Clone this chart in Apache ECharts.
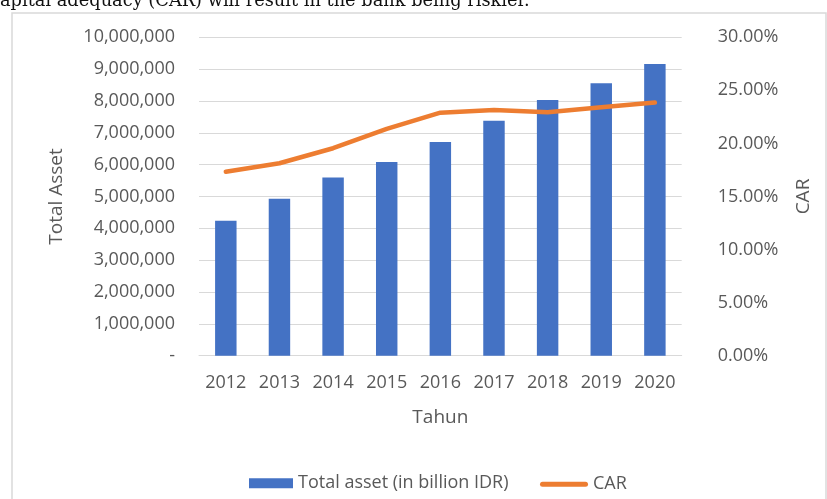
<!DOCTYPE html>
<html>
<head>
<meta charset="utf-8">
<script src="https://cdn.jsdelivr.net/npm/echarts@6/dist/echarts.min.js"></script>
<style>
html,body{margin:0;padding:0;background:#fff;}
#chart{width:827px;height:499px;}
</style>
</head>
<body>
<div id="chart"></div>
<script>
var categories = ['2012','2013','2014','2015','2016','2017','2018','2019','2020'];
var totalAsset = [4240000, 4930000, 5600000, 6080000, 6710000, 7380000, 8030000, 8560000, 9160000];
var car = [0.1734, 0.1813, 0.1955, 0.2137, 0.2290, 0.2316, 0.2294, 0.2341, 0.2385];
var leftTicks = {min: 0, max: 10000000, interval: 1000000};
var rightTicks = {min: 0, max: 0.30, interval: 0.05};
var captionText = 'apital adequacy (CAR) will result in the bank being riskier.';

var font = '"Open Sans", "Noto Sans", sans-serif';
var textColor = '#595959';
var legendText = {fontFamily: font, fontSize: 18, color: textColor, lineHeight: 18};

// fit caption font size so the line spans ~530px like the reference crop
var captionFamily = '"DejaVu Serif", serif';
var ctx = document.createElement('canvas').getContext('2d');
ctx.font = '17px ' + captionFamily;
var capSize = 17 * 530 / ctx.measureText(captionText).width;
capSize = Math.max(14, Math.min(19, capSize));

var chart = echarts.init(document.getElementById('chart'), null, {renderer: 'canvas'});
chart.setOption({
  animation: false,
  backgroundColor: '#ffffff',
  textStyle: {fontFamily: font},
  graphic: [
    {type: 'rect', shape: {x: 12, y: 13, width: 814, height: 600}, style: {fill: 'none', stroke: '#d9d9d9', lineWidth: 1.5}, silent: true, z: -1},
    {type: 'text', x: 0, y: 1.5, style: {text: captionText, font: capSize.toFixed(2) + 'px ' + captionFamily, fill: '#111', align: 'left', verticalAlign: 'middle'}}
  ],
  grid: {left: 199, right: 145.3, top: 37.3, bottom: 143.3, containLabel: false},
  legend: [
    {
      left: 244, top: 469.3,
      itemWidth: 44, itemHeight: 10,
      textStyle: legendText,
      data: [{name: 'Total asset (in billion IDR)', icon: 'rect'}]
    },
    {
      left: 535, top: 470.3,
      itemWidth: 48, itemHeight: 5,
      textStyle: legendText,
      data: [{name: 'CAR', icon: 'path://M2.5,0 L45.5,0 A2.5,2.5 0 0 1 45.5,5 L2.5,5 A2.5,2.5 0 0 1 2.5,0 Z'}]
    }
  ],
  xAxis: {
    type: 'category', data: categories,
    name: 'Tahun', nameLocation: 'middle', nameGap: 52,
    nameTextStyle: {fontFamily: font, fontSize: 19, color: textColor},
    axisLine: {lineStyle: {color: '#d9d9d9', width: 1}},
    axisTick: {show: false},
    axisLabel: {fontFamily: font, fontSize: 18, color: textColor, margin: 18}
  },
  yAxis: [
    {
      type: 'value', min: leftTicks.min, max: leftTicks.max, interval: leftTicks.interval,
      name: 'Total Asset', nameLocation: 'middle', nameGap: 133,
      nameTextStyle: {fontFamily: font, fontSize: 19, color: textColor},
      axisLine: {show: false}, axisTick: {show: false},
      splitLine: {lineStyle: {color: '#d9d9d9', width: 1}},
      axisLabel: {fontFamily: font, fontSize: 18, color: textColor, margin: 24,
        formatter: function (v) { return v === 0 ? '-' : v.toLocaleString('en-US'); }}
    },
    {
      type: 'value', min: rightTicks.min, max: rightTicks.max, interval: rightTicks.interval,
      position: 'right',
      name: 'CAR', nameLocation: 'middle', nameGap: 112,
      nameTextStyle: {fontFamily: font, fontSize: 19, color: textColor},
      axisLine: {show: false}, axisTick: {show: false},
      splitLine: {show: false},
      axisLabel: {fontFamily: font, fontSize: 18, color: textColor, margin: 36,
        formatter: function (v) { return (v * 100).toFixed(2) + '%'; }}
    }
  ],
  series: [
    {
      name: 'Total asset (in billion IDR)', type: 'bar', yAxisIndex: 0,
      data: totalAsset, barWidth: '40%',
      itemStyle: {color: '#4472C4'}
    },
    {
      name: 'CAR', type: 'line', yAxisIndex: 1,
      data: car, symbol: 'none', smooth: false,
      lineStyle: {color: '#ED7D31', width: 4.5, cap: 'round', join: 'round'},
      itemStyle: {color: '#ED7D31'}
    }
  ]
});
</script>
</body>
</html>
